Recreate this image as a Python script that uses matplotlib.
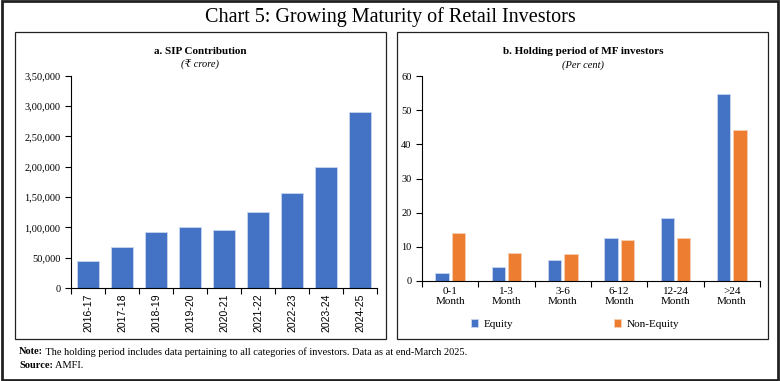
import numpy as np
import matplotlib.pyplot as plt
from matplotlib.patches import Rectangle

plt.rcParams['font.family'] = ['Liberation Serif', 'DejaVu Serif']

# data
years = ['2016-17', '2017-18', '2018-19', '2019-20', '2020-21',
         '2021-22', '2022-23', '2023-24', '2024-25']
sip = [43900, 66900, 92700, 100400, 96000, 125100, 156300, 199100, 289600]
sip_ticks = [0, 50000, 100000, 150000, 200000, 250000, 300000, 350000]
sip_tick_labels = ['0', '50,000', '1,00,000', '1,50,000', '2,00,000',
                   '2,50,000', '3,00,000', '3,50,000']

periods = ['0-1\nMonth', '1-3\nMonth', '3-6\nMonth', '6-12\nMonth',
           '12-24\nMonth', '>24\nMonth']
equity = [2.2, 4.2, 6.1, 12.6, 18.5, 54.7]
non_equity = [14.0, 8.3, 7.8, 12.0, 12.6, 44.1]

BLUE = '#4472C4'
ORANGE = '#ED7D31'

W, H = 780, 381
fig = plt.figure(figsize=(W/100, H/100), dpi=100)

def fx(px):
   return px / W

def fy(py):
   return 1 - py / H

# outer frame and panel boxes
fig.patches.append(Rectangle((0.002, 0.003), 0.996, 0.994, transform=fig.transFigure,
                             fill=False, lw=2.0, ec='#222222'))
for x0, x1 in [(15, 386), (397, 768)]:
   fig.patches.append(Rectangle((fx(x0), fy(339)), fx(x1 - x0), (339 - 32) / H,
                                transform=fig.transFigure, fill=False, lw=0.9, ec='#222222'))

fig.text(0.5, fy(17), 'Chart 5: Growing Maturity of Retail Investors',
         ha='center', va='center', fontsize=14.5)

fig.text(fx(200), fy(51), 'a. SIP Contribution', ha='center', va='center',
         fontsize=8, fontweight='bold')
fig.text(fx(200), fy(65), '(₹ crore)', ha='center', va='center',
         fontsize=7.5, style='italic')
fig.text(fx(583), fy(51), 'b. Holding period of MF investors', ha='center', va='center',
         fontsize=8, fontweight='bold')
fig.text(fx(583), fy(65), '(Per cent)', ha='center', va='center',
         fontsize=7.5, style='italic')

def style_axes(ax, n):
   for s in ['top', 'right']:
      ax.spines[s].set_visible(False)
   for s in ['left', 'bottom']:
      ax.spines[s].set_linewidth(0.8)
   ax.set_xlim(-0.5, n - 0.5)
   ax.set_xticks(np.arange(n))
   ax.set_xticks(np.arange(n + 1) - 0.5, minor=True)
   ax.tick_params(axis='x', which='major', length=0, pad=4)
   ax.tick_params(axis='x', which='minor', length=4, width=0.8, direction='out')
   ax.tick_params(axis='y', length=4, width=0.8, direction='out', labelsize=7.5)

# left panel
ax1 = fig.add_axes([fx(71), fy(288), fx(377 - 71), (288 - 75.7) / H])
x = np.arange(len(years))
ax1.bar(x, sip, width=0.62, color=BLUE, edgecolor='#c9d5ee', linewidth=0.6)
style_axes(ax1, len(years))
ax1.set_ylim(0, 350000)
ax1.set_yticks(sip_ticks)
ax1.set_yticklabels(sip_tick_labels)
ax1.set_xticklabels(years, rotation=90, fontsize=7.5, family=['Liberation Sans', 'DejaVu Sans'])

# right panel
ax2 = fig.add_axes([fx(422), fy(281), fx(760 - 422), (281 - 76) / H])
x = np.arange(len(periods))
ax2.bar(x - 0.146, equity, width=0.24, color=BLUE, edgecolor='#c9d5ee',
        linewidth=0.6, label='Equity')
ax2.bar(x + 0.146, non_equity, width=0.24, color=ORANGE, edgecolor='#f7cfb3',
        linewidth=0.6, label='Non-Equity')
style_axes(ax2, len(periods))
ax2.set_ylim(0, 60)
ax2.set_yticks(range(0, 61, 10))
ax2.set_xticklabels(periods, fontsize=8, linespacing=1.25)
ax2.legend(loc='center', bbox_to_anchor=(fx(575), fy(324)), bbox_transform=fig.transFigure,
           ncol=2, frameon=False, fontsize=8, handlelength=0.7, handleheight=0.7,
           columnspacing=9, handletextpad=0.5)

# footnotes
t1 = fig.text(fx(19), fy(352), 'Note:', ha='left', va='center', fontsize=7.5, fontweight='bold')
ax1.annotate(' The holding period includes data pertaining to all categories of investors. Data as at end-March 2025.',
             xy=(1, 0.5), xycoords=t1, ha='left', va='center', fontsize=7.5)
t2 = fig.text(fx(19), fy(366), 'Source:', ha='left', va='center', fontsize=7.5, fontweight='bold')
ax1.annotate(' AMFI.', xy=(1, 0.5), xycoords=t2, ha='left', va='center', fontsize=7.5)

fig.savefig('out.png', dpi=100)
